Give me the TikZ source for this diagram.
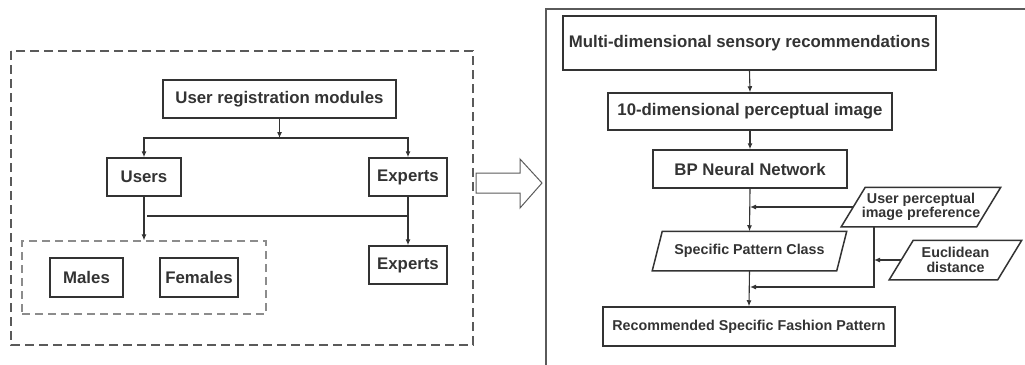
\documentclass[tikz,border=0pt]{standalone}
\usepackage{fontspec}
\setmainfont{Liberation Sans}
\usetikzlibrary{arrows.meta}
\definecolor{ink}{HTML}{333333}
\definecolor{frame}{HTML}{5A5A5A}
\definecolor{lightframe}{HTML}{8C8C8C}
\begin{document}
\begin{tikzpicture}[x=1pt, y=-1pt,
		box/.style={draw=ink, line width=1.5pt, text=ink, inner sep=0pt, minimum height=38pt, font=\fontsize{16.8}{18}\selectfont\bfseries},
		smallbox/.style={box, font=\fontsize{14.3}{14.5}\selectfont\bfseries},
		slanted/.style={smallbox, draw=none, align=center},
		outline/.style={draw=ink, line width=1.5pt, line join=miter},
		conn/.style={draw=ink, line width=1.1pt},
		arr/.style={conn, -{Latex[length=6pt,width=5pt]}}]
	\useasboundingbox (0,0) rectangle (1025,364);
	% left part: registration
	\draw[frame, line width=1.3pt, dash pattern=on 9pt off 5pt] (11,51) rectangle (473,345);
	\node[box, minimum width=233pt] (reg) at (279.5,99) {User registration modules};
	\node[box, minimum width=74pt] (users) at (144,177) {Users};
	\node[box, minimum width=78pt] (experts) at (408,177) {Experts};
	\node[box, minimum width=78pt] (experts2) at (408,265) {Experts};
	\node[draw=lightframe, line width=1.2pt, dash pattern=on 8pt off 5pt, minimum width=244pt, minimum height=73pt] (gender) at (144,277.5) {};
	\node[box, minimum width=73pt, minimum height=39pt] (males) at (86.5,277.5) {Males};
	\node[box, minimum width=78pt, minimum height=39pt] (females) at (199,277.5) {Females};
	\coordinate (split) at (279.5,138);
	\coordinate (cross) at (408,216);
	\draw[arr] (reg.south) -- (split);
	\draw[arr] (split) -| (users.north);
	\draw[arr] (split) -| (experts.north);
	\draw[arr] (users.south) -- (users.south |- gender.north);
	\draw[arr] (experts.south) -- (experts2.north);
	\draw[conn] ([xshift=3pt]users.south |- cross) -- (cross);
	% hollow arrow
	\draw[frame, line width=1pt, line join=miter] (476,173) -- (520,173) -- (520,159) -- (542,183) -- (520,208) -- (520,193) -- (476,193) -- cycle;
	% right part: recommendation
	\draw[frame, line width=1.5pt] (1030,9) -- (546,9) -- (546,370);
	\node[box, minimum width=373pt, minimum height=54pt] (multi) at (749.5,43) {Multi-dimensional sensory recommendations};
	\node[box, minimum width=284pt, minimum height=37pt] (tendim) at (750,111.5) {10-dimensional perceptual image};
	\node[box, minimum width=194pt] (bp) at (750,169) {BP Neural Network};
	\node[slanted, minimum width=134pt] (upref) at (921,207) {User perceptual\\image preference};
	\node[slanted, minimum width=183pt] (spc) at (749.5,251) {Specific Pattern Class};
	\node[slanted, minimum width=107pt] (eucl) at (955.5,260) {Euclidean\\distance};
	\node[smallbox, minimum width=292pt, minimum height=39pt] (rec) at (749,326.5) {Recommended Specific Fashion Pattern};
	% parallelogram outlines
	\draw[outline] ([xshift=-12pt]upref.south west) -- ([xshift=12pt]upref.north west) -- ([xshift=12pt]upref.north east) -- ([xshift=-12pt]upref.south east) -- cycle;
	\draw[outline] ([xshift=-5pt]spc.south west) -- ([xshift=5pt]spc.north west) -- ([xshift=5pt]spc.north east) -- ([xshift=-5pt]spc.south east) -- cycle;
	\draw[outline] ([xshift=-12pt]eucl.south west) -- ([xshift=12pt]eucl.north west) -- ([xshift=12pt]eucl.north east) -- ([xshift=-12pt]eucl.south east) -- cycle;
	\coordinate (tap) at (874,226);
	\coordinate (merge) at (750,287);
	\draw[arr] (multi.south) -- (tendim.north);
	\draw[arr] (tendim.south) -- (bp.north);
	\draw[arr] (bp.south) -- (spc.north);
	\draw[arr] (spc.south) -- (rec.north);
	\draw[arr] (upref.west) -- (upref.west -| bp.south);
	\draw[arr] (tap) |- (merge);
	\draw[arr] (eucl.west) -- (eucl.west -| tap);
\end{tikzpicture}
\end{document}
